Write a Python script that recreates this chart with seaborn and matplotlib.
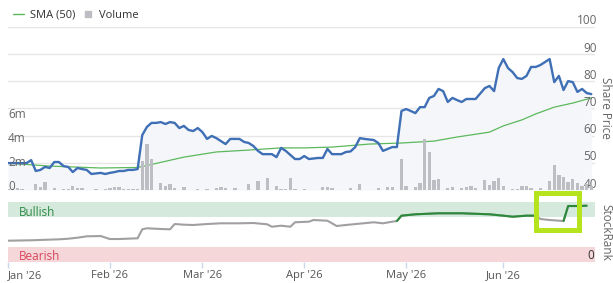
import numpy as np
import pandas as pd
import matplotlib
matplotlib.use("Agg")
import matplotlib.pyplot as plt
import matplotlib.transforms as mtrans
from matplotlib.lines import Line2D
from matplotlib.patches import Rectangle
import seaborn as sns

sns.set_theme(style="white")
plt.rcParams['font.family'] = ['Open Sans', 'DejaVu Sans']

# ---------------- data (x = trading session number from 1 Jan 2026) ----------------
month_labels = ["Jan '26", "Feb '26", "Mar '26", "Apr '26", "May '26", "Jun '26"]
month_starts = ["2026-01-01", "2026-02-01", "2026-03-01", "2026-04-01", "2026-05-01", "2026-06-01"]

price_day = [0, 4, 5, 6, 7, 8, 9, 10, 11, 12, 13, 14, 15, 16, 17, 18, 20, 21, 22, 23, 24, 25, 26, 27, 28,
             29, 30, 31, 32, 33, 34, 35, 36, 37, 38, 39, 40, 41, 42, 43, 44, 45, 47, 48, 50, 51, 52, 53,
             54, 55, 57, 58, 59, 60, 61, 62, 63, 64, 65, 67, 68, 69, 70, 72, 73, 74, 75, 76, 77, 79, 80,
             81, 82, 83, 84, 85, 86, 87, 88, 89, 90, 91, 92, 93, 94, 95, 96, 97, 98, 99, 101, 103, 104,
             105, 106, 107, 108, 109, 110, 111, 112, 113, 114, 115, 117, 118, 119, 120, 121, 122, 123,
             124, 125, 126]
price = [49.9, 49.9, 51.0, 47.0, 47.4, 48.5, 48.1, 50.3, 50.3, 48.8, 48.5, 46.6, 48.1, 47.7, 47.4, 45.9,
         46.3, 45.9, 46.3, 46.6, 47.0, 47.0, 47.4, 47.4, 47.7,
         60.2, 63.2, 64.7, 64.7, 65.0, 64.3, 65.0, 64.7, 62.8, 63.6, 62.1, 61.7, 62.8, 61.3, 58.8, 59.9,
         59.1, 56.9, 58.8, 58.8, 57.7, 57.3, 56.2,
         54.4, 53.2, 53.2, 52.1, 55.5, 54.4, 52.9, 51.4, 51.4, 52.5, 51.4, 51.8, 51.8, 55.1, 53.2, 53.2,
         54.0, 54.2, 55.8, 59.1, 58.8, 58.4, 57.3,
         54.4, 55.1, 55.8, 55.8, 69.1, 69.8, 69.1, 68.3, 70.5, 70.5, 73.9, 74.6, 77.2, 76.4, 72.4, 73.9,
         73.1, 72.4, 73.5, 73.5, 77.5, 78.3,
         76.4, 84.9, 88.2, 84.9, 83.4, 81.2, 80.9, 82.0, 85.3, 85.3, 86.0, 88.2, 79.7, 82.0, 76.8, 80.1,
         79.7, 76.1, 77.2, 75.7, 75.3]

sma_day = [0, 9, 20, 28, 31, 38, 45, 52, 59, 64, 70, 78, 85, 92, 97, 104, 107, 111, 114, 118, 122, 126]
sma = [49.9, 48.8, 48.1, 48.3, 49.4, 52.1, 54.0, 54.7, 55.5, 55.5, 55.8, 56.9, 57.3, 58.0, 59.5, 61.3,
       63.6, 65.8, 68.0, 70.5, 72.0, 73.9]

volume_m = [0.05, 0.05, 0.15, 0.12, 0.04, 0.04, 0.5, 0.25, 0.7, 0.04,
            0.15, 0.04, 0.1, 0.1, 0.35, 0.15, 0.15, 0.04, 0.04, 0.08,
            0.04, 0.08, 0.15, 0.25, 0.25, 0.06, 0.06, 0.06, 0.06, 2.45,
            3.9, 2.6, 0.04, 0.6, 0.33, 0.5, 0.2, 0.04, 0.25, 0.04,
            0.04, 0.1, 0.04, 0.1, 0.04, 0.15, 0.25, 0.15, 0.04, 0.15,
            0.04, 0.04, 0.5, 0.04, 0.75, 0.04, 1.0, 0.04, 0.33, 0.1,
            0.1, 1.0, 0.1, 0.04, 0.1, 0.04, 0.04, 0.04, 0.25, 0.25,
            0.17, 0.04, 0.04, 0.04, 0.17, 0.04, 0.5, 0.04, 0.04, 0.04,
            0.15, 0.04, 0.25, 0.25, 0.04, 2.6, 0.33, 0.04, 0.25, 0.6,
            4.3, 3.2, 0.8, 0.9, 0.04, 0.15, 0.25, 0.04, 0.15, 0.25,
            0.35, 0.2, 0.04, 0.85, 0.4, 0.75, 1.0, 0.35, 0.04, 0.1,
            0.1, 0.3, 0.35, 0.15, 0.04, 0.15, 0.04, 0.75, 2.1, 1.3,
            1.1, 0.7, 0.9, 0.6, 0.35, 0.5, 0.3]

rank_day = [0, 5, 11, 13, 15, 17, 20, 22, 24, 28, 29, 30, 33, 35, 36, 38, 40, 43, 46, 50, 53, 56, 57,
            59, 61, 62, 65, 66, 69, 71, 73, 79, 81, 83, 84, 85, 88, 93, 98, 104, 107, 109, 112, 114,
            115, 117, 120, 121, 122, 123, 125]
rank = [35.5, 36.2, 37.8, 38.8, 40.5, 42.8, 43.3, 38.3, 38.3, 39.5, 54.5, 56.2, 55.0, 54.5, 63.3, 62.2,
        61.7, 63.3, 64.5, 64.5, 65.0, 62.8, 58.8, 60.5, 58.8, 66.2, 67.2, 70.0, 68.8, 60.0, 61.7, 66.2,
        64.5, 67.2, 68.3, 77.2, 79.5, 81.2, 81.2, 79.5, 77.2, 75.5, 77.2, 77.2, 71.7, 70.0, 68.3, 93.3,
        93.3, 93.3, 93.8]

price_ticks = [40, 50, 60, 70, 80, 90, 100]
volume_ticks = [0, 2, 4, 6]
volume_tick_labels = ["0", "2m", "4m", "6m"]
bullish_level = 74
highlight_sessions = (114.1, 123.4)

# ---------------- styling ----------------
C_PRICE = "#3f6fb5"
C_SMA = "#5cb85c"
C_VOL = "#bdbdc4"
C_GRID = "#e6e6e6"
C_TXT = "#666666"
C_RANK = "#a0a0a0"
C_RANK_G = "#2a8a3a"

W, H = 613, 283
fig = plt.figure(figsize=(W / 100, H / 100), dpi=100)


def box(l, t, r, b):
    return [l / W, 1 - b / H, (r - l) / W, (b - t) / H]


ax_p = fig.add_axes(box(8, 27, 595, 190))
ax_v = ax_p.twinx()
ax_r = fig.add_axes(box(8, 202, 595, 262))

n_sess = len(volume_m)
xmax = 126.8

# price panel
for v in price_ticks:
    ax_p.axhline(v, color=C_GRID, lw=1.0, zorder=0)
ax_p.fill_between(price_day, price, 40, color="#f4f6fa", lw=0, zorder=1)
sns.lineplot(x=sma_day, y=sma, ax=ax_p, color=C_SMA, lw=0.9, zorder=3, estimator=None)
sns.lineplot(x=price_day, y=price, ax=ax_p, color=C_PRICE, lw=1.7, zorder=4, estimator=None)
ax_p.set_ylim(40, 100)
ax_p.set_xlim(0, xmax)

sess = np.arange(n_sess)
sns.barplot(x=sess, y=volume_m, ax=ax_v, native_scale=True, color=C_VOL, width=0.72,
            saturation=1, linewidth=0)
ax_v.set_ylim(0, 163 / 11.9)
ax_v.set_xlim(0, xmax)

for a in (ax_p, ax_v):
    for s in a.spines.values():
        s.set_visible(False)
    a.set_xticks([])
    a.set_yticks([])
    a.set_xlabel("")
    a.set_ylabel("")

tr_p = mtrans.blended_transform_factory(ax_p.transAxes, ax_p.transData)
tr_p = mtrans.offset_copy(tr_p, fig=fig, x=0, y=6, units="dots")
for v in price_ticks:
    ax_p.text(1.0035, v, str(v), transform=tr_p, ha="right", va="center",
              fontsize=8.5, color=C_TXT, clip_on=False)

tr_v = mtrans.blended_transform_factory(ax_v.transAxes, ax_v.transData)
tr_v = mtrans.offset_copy(tr_v, fig=fig, x=0, y=4, units="dots")
for v, lab in zip(volume_ticks, volume_tick_labels):
    ax_v.text(0.0, v, lab, transform=tr_v, ha="left", va="center",
              fontsize=8.5, color=C_TXT, clip_on=False)

fig.text(606 / W, 1 - 108 / H, "Share Price", rotation=270, ha="center", va="center",
         fontsize=8.5, color=C_TXT)

# legend
handles = [Line2D([], [], color=C_SMA, lw=1.0),
           Line2D([], [], marker="s", ls="none", color=C_VOL, markersize=4.5)]
fig.legend(handles, ["SMA (50)", "Volume"], ncol=2, loc="center left",
           bbox_to_anchor=(13 / W, 1 - 15 / H), frameon=False, fontsize=8,
           handlelength=1.0, handletextpad=0.5, columnspacing=0.7, borderpad=0,
           borderaxespad=0, labelcolor="#333333")

# StockRank panel
ax_r.axhspan(75, 100, color="#d5e9dd", lw=0, zorder=0)
ax_r.axhspan(0, 25, color="#f5d6d9", lw=0, zorder=0)
sns.lineplot(x=rank_day, y=rank, ax=ax_r, color=C_RANK, lw=1.5, zorder=2, estimator=None)
rk = np.array(rank)
green = rk >= bullish_level
green_mask = green | np.r_[green[1:] & ~green[:-1], False]
rank_green = np.where(green_mask, rk, np.nan)
ax_r.plot(rank_day, rank_green, color=C_RANK_G, lw=1.5, zorder=3)
ax_r.set_ylim(0, 100)
ax_r.set_xlim(0, xmax)
ax_r.set_yticks([])
ax_r.set_ylabel("")
for s in ax_r.spines.values():
    s.set_visible(False)
tr_r = mtrans.blended_transform_factory(ax_r.transAxes, ax_r.transData)
ax_r.text(0.019, 82.5, "Bullish", transform=tr_r, ha="left", va="center", fontsize=8.5, color="#2e8b44")
ax_r.text(0.019, 10, "Bearish", transform=tr_r, ha="left", va="center", fontsize=8.5, color="#d9455a")
ax_r.text(0.9985, 10.8, "0", transform=tr_r, ha="right", va="center", fontsize=8.5, color="#333333")
fig.text(606 / W, 1 - 232 / H, "StockRank", rotation=270, ha="center", va="center",
         fontsize=8.5, color=C_TXT)

tick_pos = [np.busday_count("2026-01-01", d) for d in month_starts]
ax_r.set_xticks(tick_pos)
ax_r.set_xticklabels(month_labels, fontsize=8, color="#555555")
ax_r.tick_params(axis="x", bottom=True, length=4, width=1, color="#ccd6eb", pad=1.5)
ax_r.get_xticklabels()[0].set_ha("left")
ax_r.set_xlabel("")

# highlight box
tr_h = mtrans.blended_transform_factory(ax_r.transData, fig.transFigure)
y0, y1 = 1 - 229.5 / H, 1 - 192.5 / H
rect = Rectangle((highlight_sessions[0], y0), highlight_sessions[1] - highlight_sessions[0], y1 - y0,
                 transform=tr_h, fill=False, edgecolor="#b5e31e", lw=3.6, joinstyle="miter",
                 clip_on=False, zorder=10)
fig.add_artist(rect)

fig.savefig("out.png", dpi=100)
